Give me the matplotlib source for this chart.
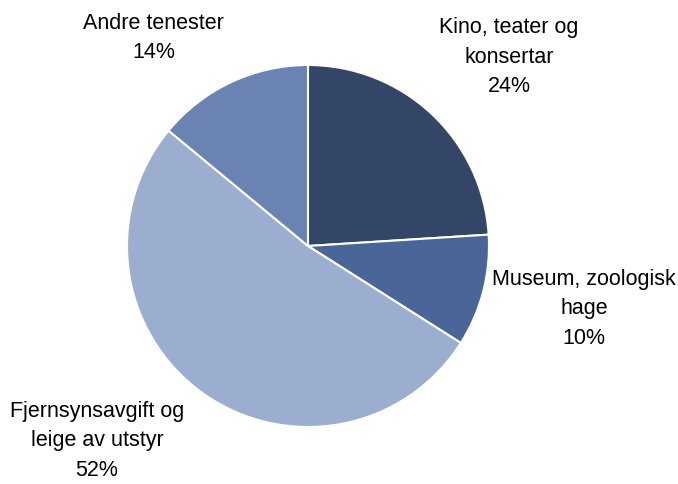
import matplotlib.pyplot as plt

labels = ['Kino, teater og\nkonsertar', 'Museum, zoologisk\nhage',
          'Fjernsynsavgift og\nleige av utstyr', 'Andre tenester']
shares = [24, 10, 52, 14]
colors = ['#344668', '#4a6698', '#9caed0', '#6a83b2']

# where each label block sits, in pie-radius units from the centre
label_xy = [(1.11, 1.044), (1.525, -0.348), (-1.166, -1.077), (-0.854, 1.149)]

plt.rcParams['font.family'] = ['Liberation Sans', 'DejaVu Sans']

fig = plt.figure(figsize=(6.78, 4.84), dpi=100)
ax = fig.add_axes([0, 0, 1, 1])
ax.pie(shares, colors=colors, startangle=90, counterclock=False,
       wedgeprops=dict(edgecolor='white', linewidth=1.5))

for lab, val, (x, y) in zip(labels, shares, label_xy):
    ax.text(x, y, f'{lab}\n{val}%', ha='center', va='center',
            fontsize=15.5, linespacing=1.52, color='black')

cx, cy, r = 308, 246, 181
ax.set_xlim(-cx / r, (678 - cx) / r)
ax.set_ylim(-(484 - cy) / r, cy / r)
ax.set_aspect('equal')
ax.axis('off')

fig.savefig('out.png', dpi=100)
